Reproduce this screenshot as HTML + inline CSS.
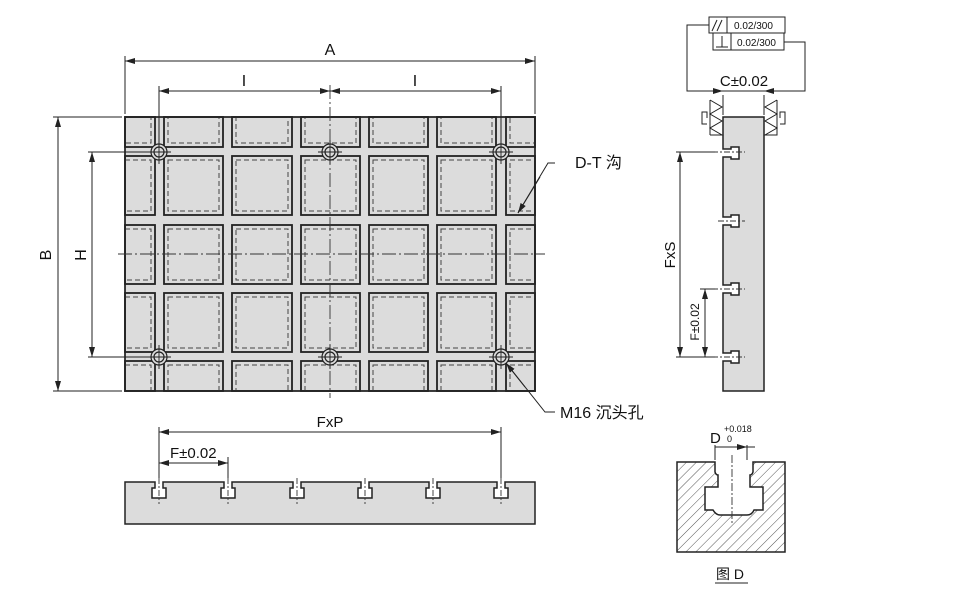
<!DOCTYPE html>
<html><head><meta charset="utf-8"><style>
html,body{margin:0;padding:0;background:#fff;}
svg{display:block;font-family:"Liberation Sans","Noto Sans CJK SC",sans-serif;}
</style></head><body>
<svg width="970" height="603" viewBox="0 0 970 603" xmlns="http://www.w3.org/2000/svg">
<defs>
<marker id="ar" viewBox="0 0 10 6" refX="10" refY="3" markerWidth="10" markerHeight="6" orient="auto-start-reverse" markerUnits="userSpaceOnUse"><path d="M0,0 L10,3 L0,6 z" fill="#222"/></marker>
<pattern id="hat" width="7" height="7" patternUnits="userSpaceOnUse" patternTransform="rotate(45)"><rect width="7" height="7" fill="#fff"/><line x1="0" y1="0" x2="0" y2="7" stroke="#555" stroke-width="1"/></pattern>
</defs>

<rect x="125" y="117" width="410" height="274" fill="#dcdcdc" stroke="#222" stroke-width="1.5"/>
<g fill="none" stroke="#222" stroke-width="1.8">
<rect x="125" y="117" width="30" height="30"/><rect x="164" y="117" width="59" height="30"/><rect x="232" y="117" width="60" height="30"/><rect x="301" y="117" width="59" height="30"/><rect x="369" y="117" width="59" height="30"/><rect x="437" y="117" width="59" height="30"/><rect x="506" y="117" width="29" height="30"/>
<rect x="125" y="156" width="30" height="59"/><rect x="164" y="156" width="59" height="59"/><rect x="232" y="156" width="60" height="59"/><rect x="301" y="156" width="59" height="59"/><rect x="369" y="156" width="59" height="59"/><rect x="437" y="156" width="59" height="59"/><rect x="506" y="156" width="29" height="59"/>
<rect x="125" y="225" width="30" height="59"/><rect x="164" y="225" width="59" height="59"/><rect x="232" y="225" width="60" height="59"/><rect x="301" y="225" width="59" height="59"/><rect x="369" y="225" width="59" height="59"/><rect x="437" y="225" width="59" height="59"/><rect x="506" y="225" width="29" height="59"/>
<rect x="125" y="293" width="30" height="59"/><rect x="164" y="293" width="59" height="59"/><rect x="232" y="293" width="60" height="59"/><rect x="301" y="293" width="59" height="59"/><rect x="369" y="293" width="59" height="59"/><rect x="437" y="293" width="59" height="59"/><rect x="506" y="293" width="29" height="59"/>
<rect x="125" y="361" width="30" height="30"/><rect x="164" y="361" width="59" height="30"/><rect x="232" y="361" width="60" height="30"/><rect x="301" y="361" width="59" height="30"/><rect x="369" y="361" width="59" height="30"/><rect x="437" y="361" width="59" height="30"/><rect x="506" y="361" width="29" height="30"/>
</g>
<g fill="none" stroke="#444" stroke-width="1" stroke-dasharray="5,3">
<rect x="125" y="117" width="26" height="26"/><rect x="168" y="117" width="51" height="26"/><rect x="236" y="117" width="52" height="26"/><rect x="305" y="117" width="51" height="26"/><rect x="373" y="117" width="51" height="26"/><rect x="441" y="117" width="51" height="26"/><rect x="510" y="117" width="25" height="26"/>
<rect x="125" y="160" width="26" height="51"/><rect x="168" y="160" width="51" height="51"/><rect x="236" y="160" width="52" height="51"/><rect x="305" y="160" width="51" height="51"/><rect x="373" y="160" width="51" height="51"/><rect x="441" y="160" width="51" height="51"/><rect x="510" y="160" width="25" height="51"/>
<rect x="125" y="229" width="26" height="51"/><rect x="168" y="229" width="51" height="51"/><rect x="236" y="229" width="52" height="51"/><rect x="305" y="229" width="51" height="51"/><rect x="373" y="229" width="51" height="51"/><rect x="441" y="229" width="51" height="51"/><rect x="510" y="229" width="25" height="51"/>
<rect x="125" y="297" width="26" height="51"/><rect x="168" y="297" width="51" height="51"/><rect x="236" y="297" width="52" height="51"/><rect x="305" y="297" width="51" height="51"/><rect x="373" y="297" width="51" height="51"/><rect x="441" y="297" width="51" height="51"/><rect x="510" y="297" width="25" height="51"/>
<rect x="125" y="365" width="26" height="26"/><rect x="168" y="365" width="51" height="26"/><rect x="236" y="365" width="52" height="26"/><rect x="305" y="365" width="51" height="26"/><rect x="373" y="365" width="51" height="26"/><rect x="441" y="365" width="51" height="26"/><rect x="510" y="365" width="25" height="26"/>
</g>
<rect x="125" y="117" width="410" height="274" fill="none" stroke="#222" stroke-width="1.5"/>

<g fill="#dcdcdc" stroke="#222" stroke-width="1.2">
<circle cx="159" cy="152" r="8"/><circle cx="159" cy="152" r="5" fill="none"/>
<circle cx="330" cy="152" r="8"/><circle cx="330" cy="152" r="5" fill="none"/>
<circle cx="501" cy="152" r="8"/><circle cx="501" cy="152" r="5" fill="none"/>
<circle cx="159" cy="357" r="8"/><circle cx="159" cy="357" r="5" fill="none"/>
<circle cx="330" cy="357" r="8"/><circle cx="330" cy="357" r="5" fill="none"/>
<circle cx="501" cy="357" r="8"/><circle cx="501" cy="357" r="5" fill="none"/>
</g>
<g stroke="#333" stroke-width="0.9" fill="none" stroke-dasharray="14,3,2,3">
<line x1="118" y1="254" x2="545" y2="254"/>
<line x1="330" y1="85" x2="330" y2="398"/>
</g>
<g stroke="#222" stroke-width="0.9">
<line x1="159" y1="140" x2="159" y2="164"/><line x1="147" y1="152" x2="171" y2="152"/>
<line x1="330" y1="140" x2="330" y2="164"/><line x1="318" y1="152" x2="342" y2="152"/>
<line x1="501" y1="140" x2="501" y2="164"/><line x1="489" y1="152" x2="513" y2="152"/>
<line x1="159" y1="345" x2="159" y2="369"/><line x1="147" y1="357" x2="171" y2="357"/>
<line x1="330" y1="345" x2="330" y2="369"/><line x1="318" y1="357" x2="342" y2="357"/>
<line x1="501" y1="345" x2="501" y2="369"/><line x1="489" y1="357" x2="513" y2="357"/>
</g>

<g stroke="#222" stroke-width="1" fill="none">
<line x1="125" y1="56" x2="125" y2="114"/><line x1="535" y1="56" x2="535" y2="114"/>
<line x1="125" y1="61" x2="535" y2="61" marker-start="url(#ar)" marker-end="url(#ar)"/>
<line x1="159" y1="86" x2="159" y2="148"/><line x1="501" y1="86" x2="501" y2="148"/>
<line x1="159" y1="91" x2="330" y2="91" marker-start="url(#ar)" marker-end="url(#ar)"/>
<line x1="330" y1="91" x2="501" y2="91" marker-start="url(#ar)" marker-end="url(#ar)"/>
<line x1="53" y1="117" x2="122" y2="117"/><line x1="53" y1="391" x2="122" y2="391"/>
<line x1="58" y1="117" x2="58" y2="391" marker-start="url(#ar)" marker-end="url(#ar)"/>
<line x1="88" y1="152" x2="150" y2="152"/><line x1="88" y1="357" x2="150" y2="357"/>
<line x1="92" y1="152" x2="92" y2="357" marker-start="url(#ar)" marker-end="url(#ar)"/>
<polyline points="555,163 548,163 518,213"/><line x1="540" y1="177" x2="518" y2="213" marker-end="url(#ar)"/>
<polyline points="555,412 545,412 506,363"/><line x1="525" y1="387" x2="506" y2="363" marker-end="url(#ar)"/>
</g>
<g font-size="16" fill="#111">
<text x="330" y="55" text-anchor="middle">A</text>
<text x="244" y="86" text-anchor="middle">I</text>
<text x="415" y="86" text-anchor="middle">I</text>
<text transform="translate(51,255) rotate(-90)" text-anchor="middle">B</text>
<text transform="translate(86,255) rotate(-90)" text-anchor="middle">H</text>
<text x="575" y="168">D-T 沟</text>
<text x="560" y="418">M16 沉头孔</text>
</g>

<path d="M125,482 H155 V488 H152 V498 H166 V488 H163 V482
 H224 V488 H221 V498 H235 V488 H232 V482
 H293 V488 H290 V498 H304 V488 H301 V482
 H361 V488 H358 V498 H372 V488 H369 V482
 H429 V488 H426 V498 H440 V488 H437 V482
 H497 V488 H494 V498 H508 V488 H505 V482
 H535 V524 H125 Z" fill="#dcdcdc" stroke="#222" stroke-width="1.5"/>
<g stroke="#333" stroke-width="0.9" stroke-dasharray="6,2,2,2">
<line x1="159" y1="478" x2="159" y2="504"/><line x1="228" y1="478" x2="228" y2="504"/><line x1="297" y1="478" x2="297" y2="504"/><line x1="365" y1="478" x2="365" y2="504"/><line x1="433" y1="478" x2="433" y2="504"/><line x1="501" y1="478" x2="501" y2="504"/>
</g>
<g stroke="#222" stroke-width="1" fill="none">
<line x1="159" y1="427" x2="159" y2="478"/><line x1="501" y1="427" x2="501" y2="478"/><line x1="228" y1="457" x2="228" y2="478"/>
<line x1="159" y1="432" x2="501" y2="432" marker-start="url(#ar)" marker-end="url(#ar)"/>
<line x1="159" y1="463" x2="228" y2="463" marker-start="url(#ar)" marker-end="url(#ar)"/>
</g>
<g font-size="15" fill="#111">
<text x="330" y="427" text-anchor="middle">FxP</text>
<text x="170" y="458">F±0.02</text>
</g>

<path d="M723,117 H764 V391 H723 V361 H731 V363 H739 V351 H731 V353 H723
 V293 H731 V295 H739 V283 H731 V285 H723
 V225 H731 V227 H739 V215 H731 V217 H723
 V157 H731 V159 H739 V147 H731 V149 H723 Z" fill="#dcdcdc" stroke="#222" stroke-width="1.5"/>
<g stroke="#333" stroke-width="0.9" stroke-dasharray="6,2,2,2">
<line x1="700" y1="152" x2="745" y2="152"/><line x1="718" y1="221" x2="745" y2="221"/><line x1="700" y1="289" x2="745" y2="289"/><line x1="700" y1="357" x2="745" y2="357"/>
</g>
<g stroke="#222" stroke-width="1" fill="none">
<line x1="676" y1="152" x2="715" y2="152"/><line x1="676" y1="357" x2="715" y2="357"/><line x1="700" y1="289" x2="715" y2="289"/>
<line x1="680" y1="152" x2="680" y2="357" marker-start="url(#ar)" marker-end="url(#ar)"/>
<line x1="705" y1="289" x2="705" y2="357" marker-start="url(#ar)" marker-end="url(#ar)"/>
<rect x="709" y="17" width="18" height="16"/><rect x="727" y="17" width="58" height="16"/>
<rect x="713" y="33" width="18" height="17"/><rect x="731" y="33" width="53" height="17"/>
<polyline points="709,25 687,25 687,91 805,91 805,42 784,42"/>
<line x1="712" y1="31" x2="717" y2="20"/><line x1="717" y1="31" x2="722" y2="20"/>
<line x1="722" y1="36" x2="722" y2="47"/><line x1="716" y1="47" x2="728" y2="47"/>
<line x1="723" y1="95" x2="723" y2="115"/><line x1="764" y1="95" x2="764" y2="115"/>
<line x1="708" y1="91" x2="723" y2="91" marker-end="url(#ar)"/>
<line x1="779" y1="91" x2="764" y2="91" marker-end="url(#ar)"/>
<line x1="723" y1="91" x2="764" y2="91"/>
<polyline points="710,100 722,107 710,114 722,121 710,128 722,135 710,135"/>
<polyline points="710,100 710,135"/>
<polyline points="777,100 765,107 777,114 765,121 777,128 765,135 777,135 777,100"/>
<path d="M707,118 V112 H702 V124 H707"/>
<path d="M780,118 V112 H785 V124 H780"/>
</g>
<g font-size="15" fill="#111">
<text x="744" y="86" text-anchor="middle">C±0.02</text>
<text transform="translate(675,255) rotate(-90)" text-anchor="middle">FxS</text>
<text transform="translate(699,322) rotate(-90)" text-anchor="middle" font-size="12">F±0.02</text>
</g>
<g font-size="10" fill="#111">
<text x="734" y="29">0.02/300</text>
<text x="737" y="46">0.02/300</text>
</g>

<path d="M677,462 H715 V472 Q716,475 718,475 V487 H705 V510 H713 Q716,515 720,515 H747 Q752,515 754,510 H763 V487 H750 V475 Q752,475 753,472 V462 H785 V552 H677 Z" fill="url(#hat)" stroke="#222" stroke-width="1.5"/>
<line x1="732" y1="455" x2="732" y2="524" stroke="#333" stroke-width="0.9" stroke-dasharray="8,2,2,2"/>
<g stroke="#222" stroke-width="1" fill="none">
<line x1="715" y1="445" x2="715" y2="460"/><line x1="747" y1="445" x2="747" y2="460"/>
<line x1="715" y1="447" x2="755" y2="447"/>
<line x1="718" y1="447" x2="747" y2="447" marker-end="url(#ar)"/>
<line x1="715" y1="583" x2="748" y2="583"/>
</g>
<g fill="#111">
<text x="710" y="443" font-size="15">D</text>
<text x="724" y="432" font-size="9">+0.018</text>
<text x="727" y="442" font-size="9">0</text>
<text x="716" y="579" font-size="14">图 D</text>
</g>
</svg>
</body></html>
